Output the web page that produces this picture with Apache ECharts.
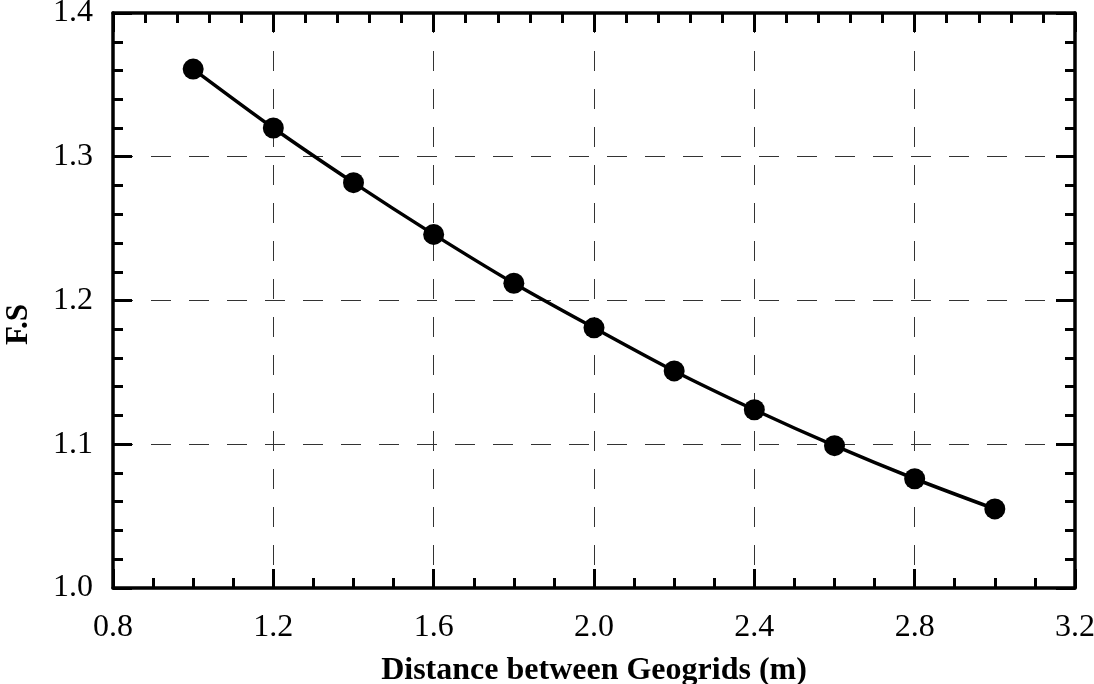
<!DOCTYPE html>
<html>
<head>
<meta charset="utf-8">
<script src="https://cdn.jsdelivr.net/npm/echarts@6/dist/echarts.min.js"></script>
<style>
  html, body { margin: 0; padding: 0; background: #fff; }
  #chart { width: 1094px; height: 684px; }
</style>
</head>
<body>
<div id="chart"></div>
<script>
// Spacing between geogrid layers (m) and the resulting factor of safety
const spacing = [1.0, 1.2, 1.4, 1.6, 1.8, 2.0, 2.2, 2.4, 2.6, 2.8, 3.0];
const factorOfSafety = [1.361, 1.320, 1.282, 1.246, 1.212, 1.181, 1.151, 1.124, 1.099, 1.076, 1.055];

const xRange = { min: 0.8, max: 3.2, interval: 0.4 };
const yRange = { min: 1.0, max: 1.4, interval: 0.1 };

const xTitle = 'Distance between Geogrids (m)';
const yTitle = 'F.S';

const FONT = '"Liberation Serif", "Times New Roman", serif';
const INK = '#000';

const frameLine = { show: true, onZero: false, lineStyle: { color: INK, width: 3.5 } };
const majorTick = { show: true, inside: true, length: 19, lineStyle: { color: INK, width: 3 } };
const dashedGrid = { show: true, lineStyle: { color: '#333', width: 1, type: [20, 18] } };

const fmt = v => v.toFixed(1);

const chart = echarts.init(document.getElementById('chart'), null, { renderer: 'canvas' });

chart.setOption({
  animation: false,
  backgroundColor: '#fff',
  grid: { left: 113, right: 19, top: 13, bottom: 96, containLabel: false, outerBoundsMode: 'none' },
  xAxis: [
    {
      type: 'value',
      position: 'bottom',
      min: xRange.min, max: xRange.max, interval: xRange.interval,
      axisLine: frameLine,
      axisTick: majorTick,
      minorTick: { show: true, splitNumber: 4, length: 10, lineStyle: { color: INK, width: 3 } },
      splitLine: dashedGrid,
      axisLabel: { show: true, color: INK, fontFamily: FONT, fontSize: 32, margin: 24, formatter: fmt, showMinLabel: true, showMaxLabel: true },
      name: xTitle,
      nameLocation: 'middle',
      nameGap: 67,
      nameTextStyle: { color: INK, fontFamily: FONT, fontSize: 32, fontWeight: 'bold' }
    },
    {
      type: 'value',
      position: 'top',
      min: xRange.min, max: xRange.max, interval: xRange.interval,
      axisLine: frameLine,
      axisTick: majorTick,
      minorTick: { show: true, splitNumber: 5, length: 10, lineStyle: { color: INK, width: 3 } },
      splitLine: { show: false },
      axisLabel: { show: false }
    }
  ],
  yAxis: [
    {
      type: 'value',
      position: 'left',
      min: yRange.min, max: yRange.max, interval: yRange.interval,
      axisLine: frameLine,
      axisTick: majorTick,
      minorTick: { show: true, splitNumber: 5, length: 10, lineStyle: { color: INK, width: 3 } },
      splitLine: dashedGrid,
      axisLabel: { show: true, color: INK, fontFamily: FONT, fontSize: 32, margin: 20, formatter: fmt, showMinLabel: true, showMaxLabel: true },
      name: yTitle,
      nameLocation: 'middle',
      nameGap: 79,
      nameRotate: 90,
      nameTextStyle: { color: INK, fontFamily: FONT, fontSize: 31, fontWeight: 'bold', padding: [0, 48, 0, 0] }
    },
    {
      type: 'value',
      position: 'right',
      min: yRange.min, max: yRange.max, interval: yRange.interval,
      axisLine: frameLine,
      axisTick: majorTick,
      minorTick: { show: true, splitNumber: 5, length: 10, lineStyle: { color: INK, width: 3 } },
      splitLine: { show: false },
      axisLabel: { show: false }
    }
  ],
  series: [
    {
      type: 'line',
      xAxisIndex: 0,
      yAxisIndex: 0,
      data: spacing.map((x, i) => [x, factorOfSafety[i]]),
      smooth: 0.3,
      symbol: 'circle',
      symbolSize: 21,
      lineStyle: { color: INK, width: 3.5 },
      itemStyle: { color: INK },
      z: 5
    }
  ]
});
</script>
</body>
</html>
